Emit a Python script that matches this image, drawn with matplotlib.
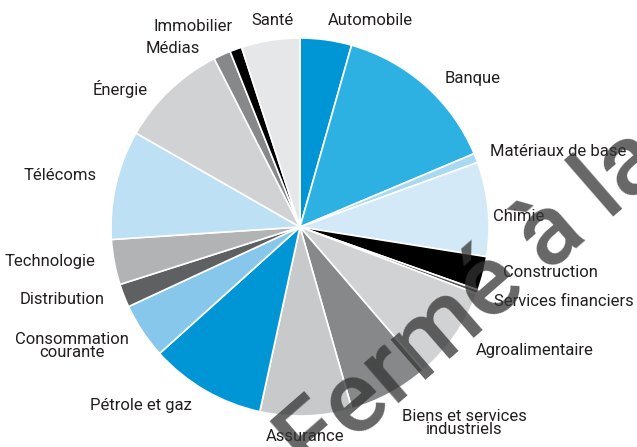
import matplotlib
matplotlib.use("Agg")
import matplotlib.pyplot as plt

sectors = ["Automobile", "Banque", "Matériaux de base", "Chimie", "Construction",
           "Services financiers", "Agroalimentaire", "Biens et services\nindustriels",
           "Assurance", "Pétrole et gaz", "Consommation\ncourante", "Distribution",
           "Technologie", "Télécoms", "Énergie", "Médias", "Immobilier", "Santé"]
weights = [4.4, 14.25, 0.8, 8.06, 2.9, 0.33, 7.94, 6.89, 7.83, 9.92, 4.75, 2.0,
           3.86, 9.33, 9.22, 1.47, 1.03, 5.0]
colors = ["#0096d6", "#2db1e2", "#a9d9f1", "#d4e9f7", "#000000", "#58595b",
          "#d1d2d4", "#87888a", "#c8c9cb", "#0096d6", "#86c7eb", "#5f6062",
          "#b2b3b5", "#bde0f4", "#d1d2d4", "#87888a", "#000000", "#e6e7e8"]
label_pos = [(0.370, 1.090), (0.915, 0.788), (1.365, 0.397), (1.159, 0.053),
             (1.323, -0.243), (1.397, -0.392), (1.243, -0.651), (0.868, -1.037),
             (0.026, -1.111), (-0.841, -0.942), (-1.206, -0.630), (-1.259, -0.386),
             (-1.323, -0.180), (-1.270, 0.270), (-0.952, 0.730), (-0.672, 0.947),
             (-0.566, 1.063), (-0.148, 1.095)]

W, H = 637, 447
cx, cy, R = 300, 227, 189

fig = plt.figure(figsize=(W / 100, H / 100), dpi=100)
ax = fig.add_axes([0, 0, 1, 1])
ax.pie(weights, colors=colors, startangle=90, counterclock=False, radius=1.0,
       wedgeprops=dict(edgecolor="white", linewidth=1.2))
ax.set_xlim(-cx / R, (W - cx) / R)
ax.set_ylim(-(H - cy) / R, cy / R)
ax.set_aspect("auto")
ax.axis("off")

for name, (x, y) in zip(sectors, label_pos):
    ax.text(x, y, name, ha="center", va="center", fontsize=12,
            family="Roboto", color="#231f20", linespacing=0.9)

ax.text(0.062, -1.335, "Fermé à la", rotation=41, rotation_mode="anchor",
        ha="left", va="baseline", fontsize=73, family="Roboto", fontweight="medium",
        color="#333333", alpha=0.75, zorder=10)

fig.savefig("out.png", dpi=100)
